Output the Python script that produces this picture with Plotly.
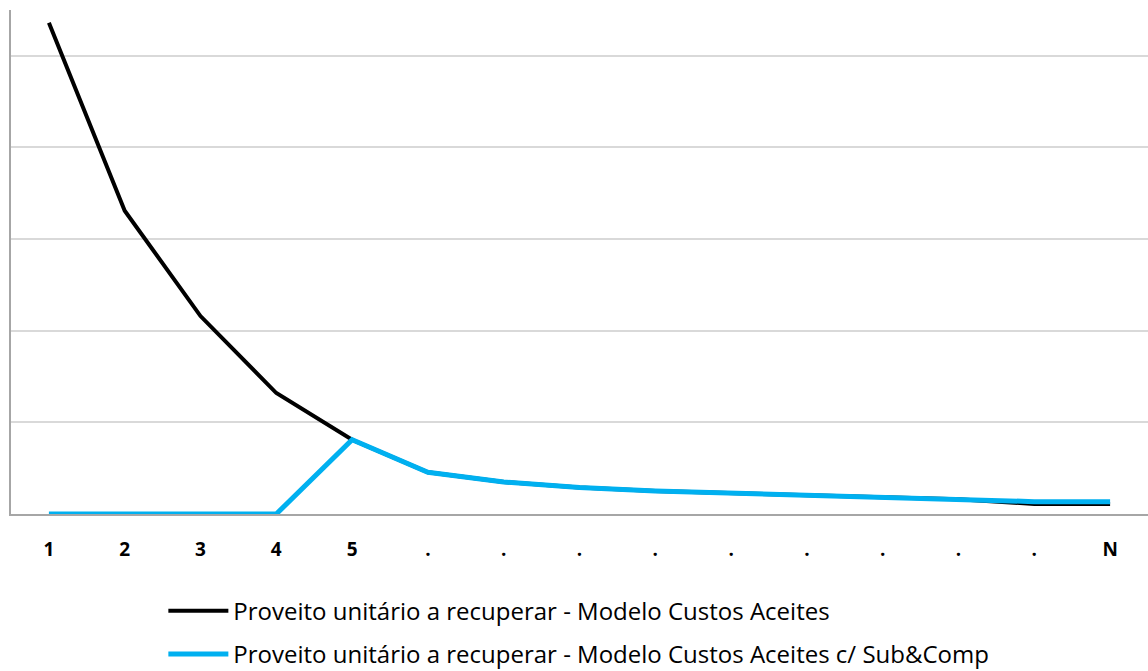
import plotly.graph_objects as go

# Period labels along the horizontal axis
periods = ["1", "2", "3", "4", "5", ".", ".", ".", ".", ".", ".", ".", ".", ".", "N"]

# Unit revenue to recover per period
custos_aceites = [5.36, 3.31, 2.16, 1.32, 0.81, 0.455, 0.35, 0.29, 0.25, 0.225, 0.21, 0.185, 0.16, 0.11, 0.11]
custos_aceites_sub = [0, 0, 0, 0, 0.81, 0.455, 0.35, 0.29, 0.25, 0.225, 0.21, 0.185, 0.16, 0.135, 0.135]

names = [
    "Proveito unitário a recuperar - Modelo Custos Aceites",
    "Proveito unitário a recuperar - Modelo Custos Aceites c/ Sub&Comp",
]

x = list(range(len(periods)))

fig = go.Figure()
fig.add_trace(go.Scatter(
    x=x, y=custos_aceites, mode="lines", name=names[0], legendgroup="a",
    line=dict(color="#000000", width=4),
))
fig.add_trace(go.Scatter(
    x=x, y=custos_aceites_sub, mode="lines", name=names[1], legendgroup="b",
    line=dict(color="#00b0f0", width=5),
))

fig.update_layout(
    width=1148, height=671,
    margin=dict(l=11, r=0, t=10, b=157, autoexpand=False),
    paper_bgcolor="white", plot_bgcolor="white",
    showlegend=True,
    legend=dict(
        orientation="v", x=0.134, xanchor="left", y=-0.148, yanchor="top",
        font=dict(family="Open Sans", size=24, color="#000000"),
        tracegroupgap=9, itemwidth=60,
        bgcolor="rgba(0,0,0,0)",
    ),
    xaxis=dict(
        tickmode="array", tickvals=x, ticktext=periods,
        range=[-0.5, len(periods) - 0.5],
        showgrid=False, zeroline=False,
        showline=True, linecolor="#a6a6a6", linewidth=2,
        ticks="outside", ticklen=17, tickcolor="rgba(0,0,0,0)",
        tickfont=dict(family="Open Sans", size=19, color="#000000", weight="bold"),
    ),
    yaxis=dict(
        range=[0, 5.5], dtick=1, showticklabels=False,
        showgrid=True, gridcolor="#d9d9d9", gridwidth=2,
        zeroline=False,
        showline=True, linecolor="#a6a6a6", linewidth=2,
    ),
)

fig.write_html("out.html")
